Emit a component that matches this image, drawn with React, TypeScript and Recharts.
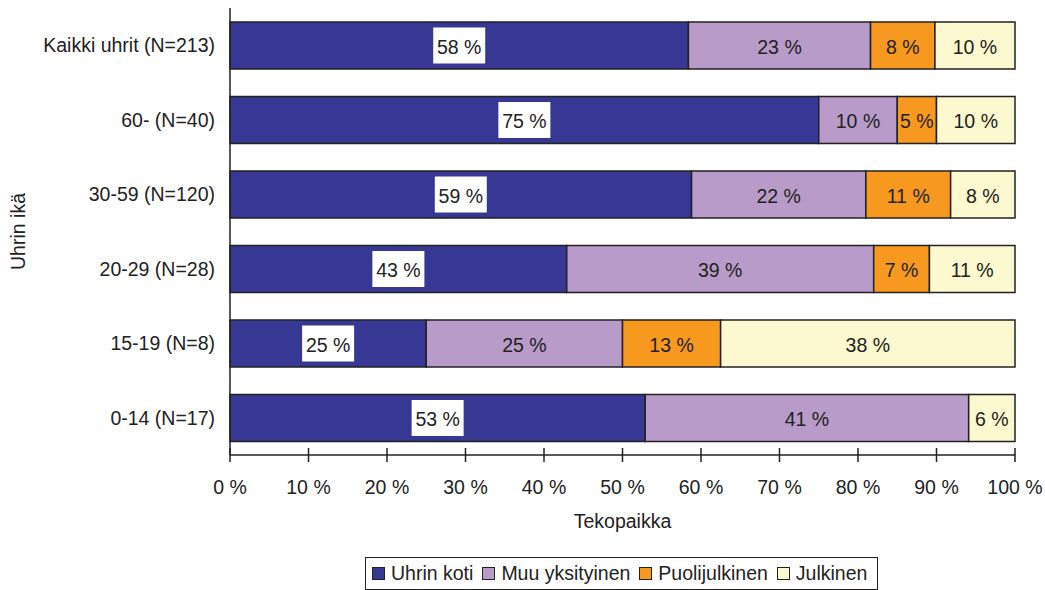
import { BarChart, Bar, XAxis, YAxis, LabelList } from 'recharts';

const CATEGORIES = ['Kaikki uhrit (N=213)', '60- (N=40)', '30-59 (N=120)', '20-29 (N=28)', '15-19 (N=8)', '0-14 (N=17)'];
const UHRIN_KOTI = [58.4, 75.0, 58.8, 42.9, 25.0, 52.9];
const MUU_YKSITYINEN = [23.2, 10.0, 22.2, 39.1, 25.0, 41.2];
const PUOLIJULKINEN = [8.2, 5.0, 10.8, 7.1, 12.5, 0];
const JULKINEN = [10.2, 10.0, 8.2, 10.9, 37.5, 5.9];
const X_TICKS = [0, 10, 20, 30, 40, 50, 60, 70, 80, 90, 100];

const SERIES = [
  { key: 'koti', name: 'Uhrin koti', color: '#363894', values: UHRIN_KOTI },
  { key: 'muu', name: 'Muu yksityinen', color: '#b89bc8', values: MUU_YKSITYINEN },
  { key: 'puoli', name: 'Puolijulkinen', color: '#f8991f', values: PUOLIJULKINEN },
  { key: 'julk', name: 'Julkinen', color: '#fcf8cf', values: JULKINEN },
];

const rows = CATEGORIES.map((name, i) => {
  const r: Record<string, string | number> = { name };
  SERIES.forEach(s => { r[s.key] = s.values[i]; });
  return r;
});

const FONT = '"Liberation Sans", Arial, sans-serif';
const FS = 19.5;
const INK = '#222';

// eslint-disable-next-line @typescript-eslint/no-explicit-any
function XTick({ x, y, payload }: any) {
  return (
    <g>
      <line x1={x} x2={x} y1={y - 7} y2={y + 7} stroke={INK} strokeWidth={1.5} />
      <text x={x} y={y + 32} textAnchor="middle" dominantBaseline="central" fontFamily={FONT} fontSize={FS} fill={INK}>
        {payload.value} %
      </text>
    </g>
  );
}

function segLabel(boxed: boolean) {
  // eslint-disable-next-line @typescript-eslint/no-explicit-any
  return (p: any) => {
    const v = Number(p.value);
    if (!v) return null;
    const cx = Number(p.x) + Number(p.width) / 2;
    const cy = Number(p.y) + Number(p.height) / 2;
    return (
      <g>
        {boxed && <rect x={cx - 26} y={cy - 18} width={52} height={36} fill="#fff" />}
        <text x={cx} y={cy + 1} textAnchor="middle" dominantBaseline="central" fontFamily={FONT} fontSize={FS} fill={INK}>
          {Math.round(v)} %
        </text>
      </g>
    );
  };
}

export default function App() {
  return (
    <div style={{ position: 'absolute', left: 0, top: 0, width: 1045, height: 590, background: '#fff' }}>
      <BarChart
        width={1045}
        height={590}
        data={rows}
        layout="vertical"
        margin={{ top: 8, right: 30, left: 0, bottom: 55 }}
        barSize={47}
      >
        <XAxis
          type="number"
          domain={[0, 100]}
          ticks={X_TICKS}
          interval={0}
          height={80}
          tickLine={false}
          tickSize={0}
          tickMargin={0}
          tick={<XTick />}
          axisLine={{ stroke: INK, strokeWidth: 1.5 }}
          label={{
            // eslint-disable-next-line @typescript-eslint/no-explicit-any
            content: ({ viewBox }: any) => (
              <text x={viewBox.x + viewBox.width / 2} y={viewBox.y + 66} textAnchor="middle" dominantBaseline="central" fontFamily={FONT} fontSize={FS} fill={INK}>
                Tekopaikka
              </text>
            ),
          }}
        />
        <YAxis
          type="category"
          dataKey="name"
          width={230}
          tickLine={false}
          tickSize={0}
          tickMargin={15}
          tick={{ fill: INK, fontSize: FS, fontFamily: FONT }}
          axisLine={{ stroke: INK, strokeWidth: 1.5 }}
          label={{
            // eslint-disable-next-line @typescript-eslint/no-explicit-any
            content: ({ viewBox }: any) => {
              const cy = viewBox.y + viewBox.height / 2;
              return (
                <text x={18} y={cy} transform={`rotate(-90 18 ${cy})`} textAnchor="middle" dominantBaseline="central" fontFamily={FONT} fontSize={FS} fill={INK}>
                  Uhrin ikä
                </text>
              );
            },
          }}
        />
        {SERIES.map((s, i) => (
          <Bar key={s.key} dataKey={s.key} name={s.name} stackId="a" fill={s.color} stroke={INK} strokeWidth={1.5} isAnimationActive={false}>
            <LabelList dataKey={s.key} content={segLabel(i === 0)} />
          </Bar>
        ))}
      </BarChart>

      {/* Legend */}
      <div
        style={{
          position: 'absolute', left: 365, top: 557, width: 513, height: 33, boxSizing: 'border-box',
          border: `1px solid ${INK}`, display: 'flex', alignItems: 'center', paddingLeft: 6,
          gap: 9, fontFamily: FONT, fontSize: FS, color: INK, whiteSpace: 'nowrap',
        }}
      >
        {SERIES.map(s => (
          <div key={s.key} style={{ display: 'flex', alignItems: 'center', gap: 6 }}>
            <span style={{ width: 11, height: 11, background: s.color, border: `1.5px solid ${INK}`, display: 'inline-block' }} />
            <span>{s.name}</span>
          </div>
        ))}
      </div>
    </div>
  );
}
